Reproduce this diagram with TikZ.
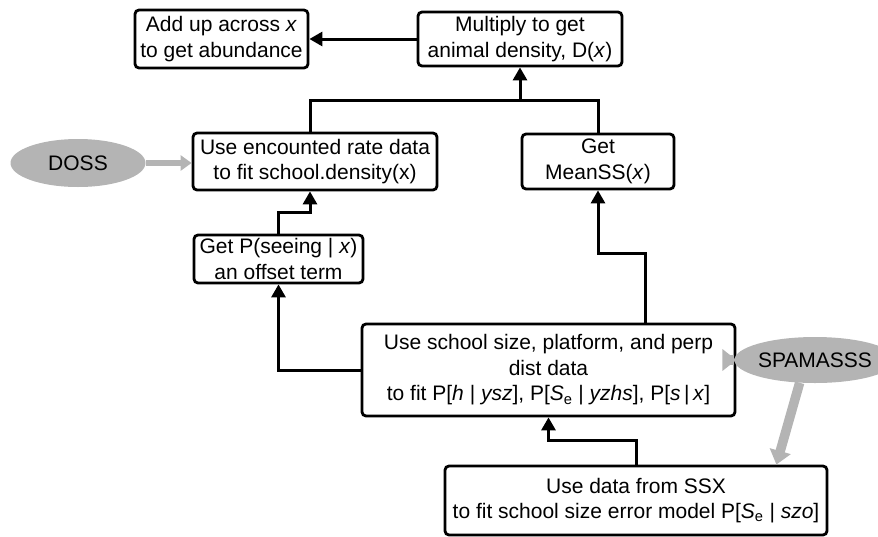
\documentclass[tikz,border=0pt]{standalone}
\usepackage{fontspec}
\setmainfont{Liberation Sans}
\usetikzlibrary{arrows.meta,shapes.geometric,calc}
\definecolor{ashgray}{RGB}{180,180,180}

\begin{document}
\begin{tikzpicture}[x=1pt, y=-1pt,
    every node/.style={font=\fontsize{21}{25.5}\selectfont},
    stepbox/.style={draw, line width=2.8pt, rounded corners=4pt, align=center, inner sep=0pt},
    source/.style={ellipse, fill=ashgray, inner sep=0pt},
    link/.style={line width=3pt},
    flow/.style={line width=3pt, -{Triangle[width=14pt,length=13pt]}},
    feed/.style={color=ashgray, line width=6pt, -{Triangle[width=15pt,length=11pt]}},
    widefeed/.style={color=ashgray, line width=9.5pt, -{Triangle[width=21pt,length=14pt]}}]
    \useasboundingbox (0,0) rectangle (878,536);
    % Steps
    \node[stepbox, minimum width=173pt, minimum height=58pt] (add) at (221.5,39) {Add up across \textit{x}\\to get abundance};
    \node[stepbox, minimum width=204pt, minimum height=54pt] (mult) at (520,39) {Multiply to get\\animal density, D(\textit{x})};
    \node[stepbox, minimum width=244pt, minimum height=57pt] (enc) at (315,161.5) {Use encounted rate data\\to fit school.density(x)};
    \node[stepbox, minimum width=152pt, minimum height=55pt] (mean) at (598,161.5) {Get\\MeanSS(\textit{x})};
    \node[stepbox, minimum width=169pt, minimum height=48pt] (pse) at (278.5,259) {Get P(seeing | \textit{x})\\an offset term};
    \node[stepbox, minimum width=373pt, minimum height=92pt] (use) at (548.5,370) {Use school size, platform, and perp\\dist data\\to fit P[\textit{h} | \textit{ysz}], P[\textit{S}\textsubscript{e} | \textit{yzhs}], P[\textit{s}\,|\,\textit{x}]};
    \node[stepbox, minimum width=382pt, minimum height=69pt] (ssx) at (636,500.5) {Use data from SSX\\to fit school size error model P[\textit{S}\textsubscript{e} | \textit{szo}]};
    % Data sources
    \node[source, minimum width=135pt, minimum height=48pt] (doss) at (78,163) {DOSS};
    \node[source, minimum width=128pt, minimum height=46pt] (spam) at (815,360) {SPAMASSS};
    % Bend points
    \coordinate (jtop) at (520,100);
    \coordinate (jenc) at (310,212);
    \coordinate (jmean) at (645,253);
    \coordinate (juse) at (548,440);
    % Connectors
    \draw[flow] (mult.west) -- (add.east);
    \draw[link] (enc.north -| jenc) |- (jtop) -| (mean.north);
    \draw[flow] (jtop) -- (mult.south);
    \draw[flow] (pse.north) |- (jenc) -- (enc.south -| jenc);
    \draw[flow] (use.west) -| (pse.south);
    \draw[flow] (use.north -| jmean) -- (jmean) -| (mean.south);
    \draw[flow] (ssx.north) |- (use.south |- juse) -- (use.south);
    % Data feeds
    \draw[feed] (doss.east) -- (doss.east -| enc.west);
    \draw[widefeed] (spam.west) -- (spam.west -| use.east);
    \draw[widefeed] (spam.236) -- ($(ssx.north east)+(-52,0)$);
\end{tikzpicture}
\end{document}
